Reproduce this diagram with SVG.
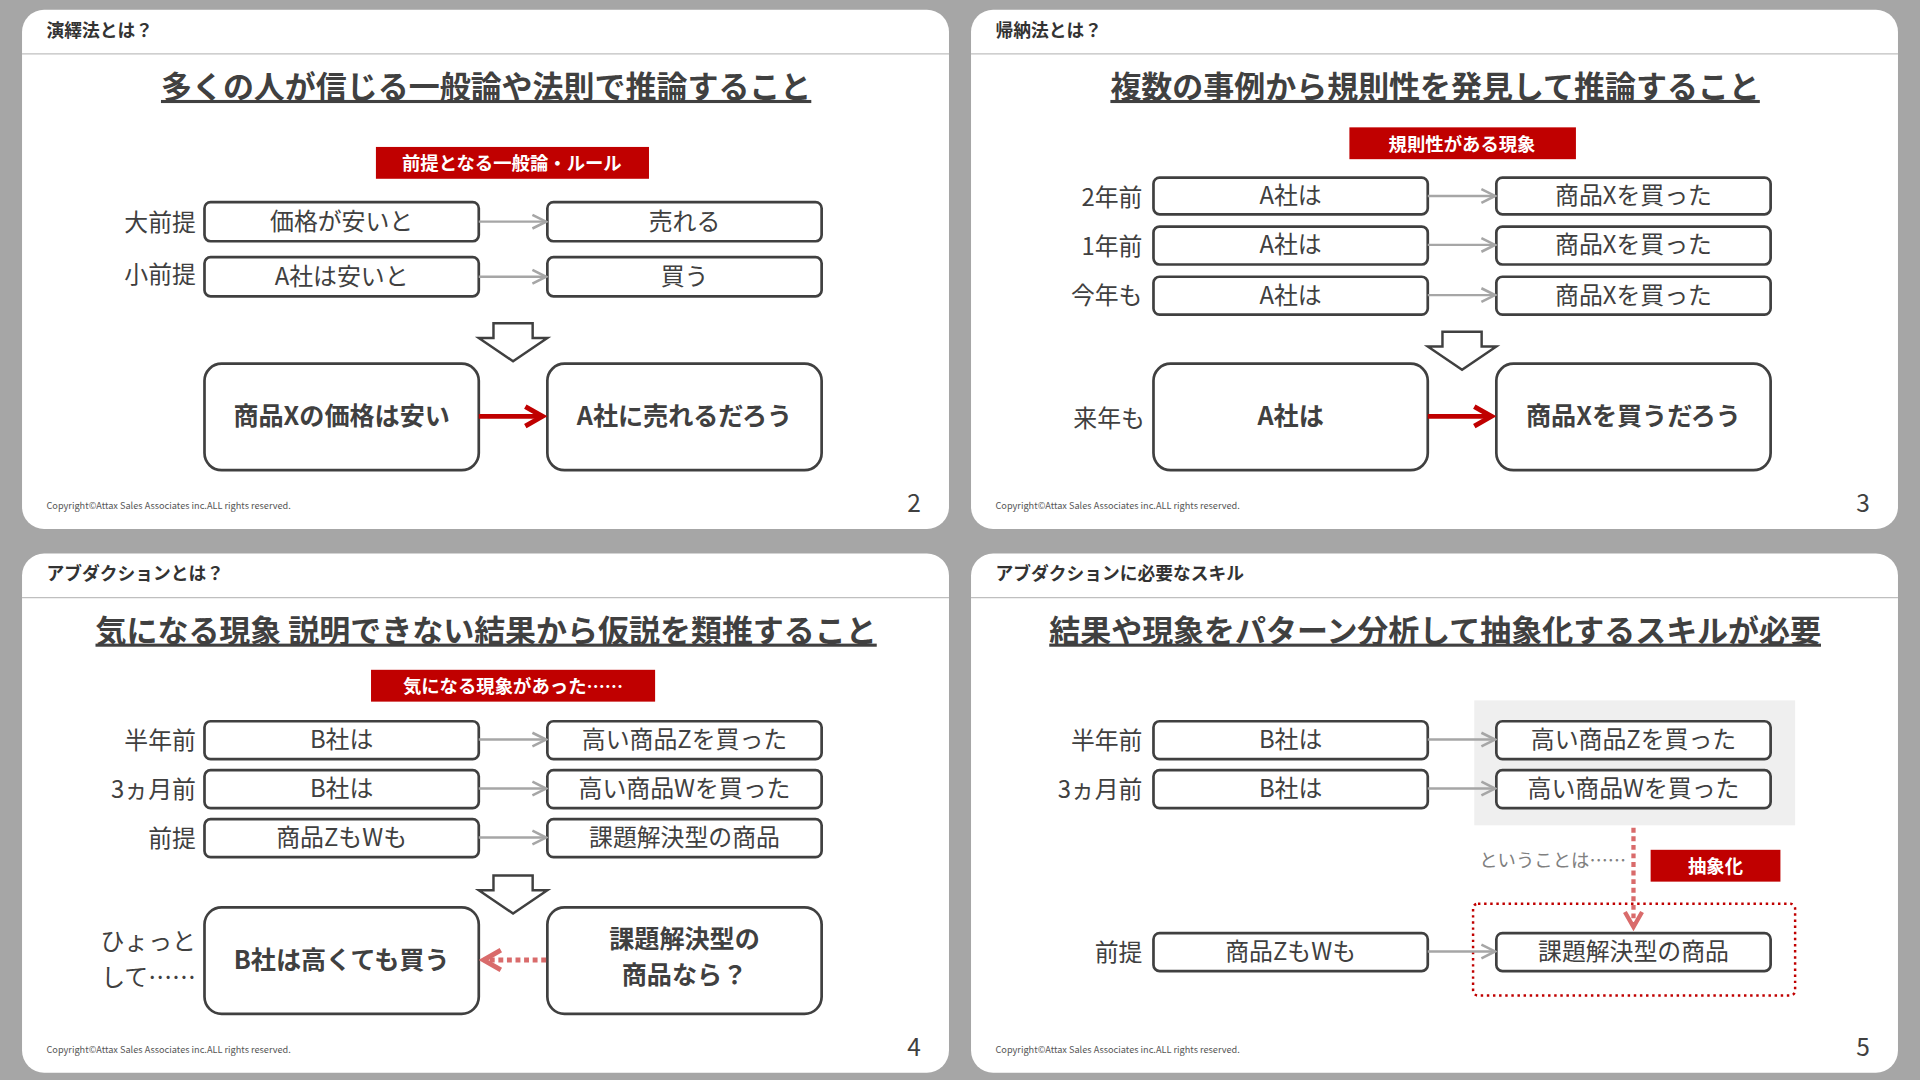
<svg xmlns="http://www.w3.org/2000/svg" width="1920" height="1080" viewBox="0 0 1920 1080">
<defs>
<style>
text{font-family:"Noto Sans CJK JP","Noto Sans",sans-serif;fill:#404040}
.panel{fill:#fff}
.hdr{font-size:14.5px;font-weight:700;fill:#333}
.ttl{font-size:25.3px;font-weight:700;text-anchor:middle;text-decoration:underline}
.box{fill:#fff;stroke:#404040;stroke-width:2.2}
.bt{font-size:19.5px;text-anchor:middle}
.bb{font-size:20.5px;font-weight:700;text-anchor:middle}
.lb{font-size:19.5px;text-anchor:end}
.red{fill:#c00000}
.rt{font-size:15px;font-weight:700;fill:#fff;text-anchor:middle}
.ga{stroke:#a6a6a6;stroke-width:2;fill:none;marker-end:url(#ga)}
.cp{font-size:7.5px;fill:#555}
.pn{font-size:20px;fill:#404040}
.down{fill:#fff;stroke:#404040;stroke-width:2}
</style>
<marker id="ga" viewBox="0 0 10 10" refX="9" refY="5" markerWidth="7" markerHeight="7" orient="auto"><path d="M1,1 L9,5 L1,9" fill="none" stroke="#a6a6a6" stroke-width="1.5"/></marker>
<marker id="ra" viewBox="0 0 10 10" refX="8" refY="5" markerWidth="5" markerHeight="5" orient="auto"><path d="M1,1 L8,5 L1,9" fill="none" stroke="#c00000" stroke-width="2"/></marker>
<marker id="pa" viewBox="0 0 10 10" refX="8" refY="5" markerWidth="5" markerHeight="5" orient="auto"><path d="M1,1 L8,5 L1,9" fill="none" stroke="#d96b6b" stroke-width="2"/></marker>
<path id="dn" d="M-16,0 H16 V12 H28 L0,31 L-28,12 H-16 Z"/>
</defs>
<rect width="1920" height="1080" fill="#a6a6a6"/>
<g transform="scale(1.2245)">
<g id="panels">
<rect class="panel" x="18" y="8" width="757" height="424" rx="18"/>
<rect class="panel" x="793" y="8" width="757" height="424" rx="18"/>
<rect class="panel" x="18" y="452" width="757" height="424" rx="18"/>
<rect class="panel" x="793" y="452" width="757" height="424" rx="18"/>
<g stroke="#bfbfbf" stroke-width="1"><line x1="18" y1="44" x2="775" y2="44"/><line x1="793" y1="44" x2="1550" y2="44"/><line x1="18" y1="488" x2="775" y2="488"/><line x1="793" y1="488" x2="1550" y2="488"/></g>
</g>

<g id="p1">
<text class="hdr" x="38" y="30">演繹法とは？</text>
<text class="ttl" x="397" y="80">多くの人が信じる一般論や法則で推論すること</text>
<rect class="red" x="307" y="120" width="223" height="26"/><text class="rt" x="418" y="139">前提となる一般論・ルール</text>
<text class="lb" x="160" y="189">大前提</text><text class="lb" x="160" y="231">小前提</text>
<g id="n1a"><rect class="box" x="167" y="165" width="224" height="32" rx="5"/><text class="bt" x="279" y="188">価格が安いと</text></g>
<g id="n1b"><rect class="box" x="447" y="165" width="224" height="32" rx="5"/><text class="bt" x="559" y="188">売れる</text></g>
<g id="n1c"><rect class="box" x="167" y="210" width="224" height="32" rx="5"/><text class="bt" x="279" y="233">A社は安いと</text></g>
<g id="n1d"><rect class="box" x="447" y="210" width="224" height="32" rx="5"/><text class="bt" x="559" y="233">買う</text></g>
<use href="#dn" class="down" x="419" y="264"/>
<g id="n1e"><rect class="box" x="167" y="297" width="224" height="87" rx="14"/><text class="bb" x="279" y="347">商品Xの価格は安い</text></g>
<g id="n1f"><rect class="box" x="447" y="297" width="224" height="87" rx="14"/><text class="bb" x="559" y="347">A社に売れるだろう</text></g>
<text class="cp" x="38" y="416">Copyright©Attax Sales Associates inc.ALL rights reserved.</text>
<text class="pn" x="741" y="418">2</text>
</g>

<g id="p2">
<text class="hdr" x="813" y="30">帰納法とは？</text>
<text class="ttl" x="1172" y="80">複数の事例から規則性を発見して推論すること</text>
<rect class="red" x="1102" y="104" width="185" height="26"/><text class="rt" x="1194" y="123">規則性がある現象</text>
<text class="lb" x="933" y="168">2年前</text><text class="lb" x="933" y="208">1年前</text><text class="lb" x="933" y="248">今年も</text><text class="lb" x="935" y="349">来年も</text>
<g id="n2a"><rect class="box" x="942" y="145" width="224" height="30" rx="5"/><text class="bt" x="1054" y="167">A社は</text></g>
<g id="n2b"><rect class="box" x="1222" y="145" width="224" height="30" rx="5"/><text class="bt" x="1334" y="167">商品Xを買った</text></g>
<g id="n2c"><rect class="box" x="942" y="185" width="224" height="31" rx="5"/><text class="bt" x="1054" y="207">A社は</text></g>
<g id="n2d"><rect class="box" x="1222" y="185" width="224" height="31" rx="5"/><text class="bt" x="1334" y="207">商品Xを買った</text></g>
<g id="n2e"><rect class="box" x="942" y="226" width="224" height="31" rx="5"/><text class="bt" x="1054" y="248">A社は</text></g>
<g id="n2f"><rect class="box" x="1222" y="226" width="224" height="31" rx="5"/><text class="bt" x="1334" y="248">商品Xを買った</text></g>
<use href="#dn" class="down" x="1194" y="271"/>
<g id="n2g"><rect class="box" x="942" y="297" width="224" height="87" rx="14"/><text class="bb" x="1054" y="347">A社は</text></g>
<g id="n2h"><rect class="box" x="1222" y="297" width="224" height="87" rx="14"/><text class="bb" x="1334" y="347">商品Xを買うだろう</text></g>
<text class="cp" x="813" y="416">Copyright©Attax Sales Associates inc.ALL rights reserved.</text>
<text class="pn" x="1516" y="418">3</text>
</g>

<g id="p3">
<text class="hdr" x="38" y="474">アブダクションとは？</text>
<text class="ttl" x="397" y="524">気になる現象 説明できない結果から仮説を類推すること</text>
<rect class="red" x="303" y="547" width="232" height="26"/><text class="rt" x="419" y="566">気になる現象があった……</text>
<text class="lb" x="160" y="612">半年前</text><text class="lb" x="160" y="652">3ヵ月前</text><text class="lb" x="160" y="692">前提</text>
<text class="lb" x="160" y="776">ひょっと</text><text class="lb" x="160" y="805">して……</text>
<g id="n3a"><rect class="box" x="167" y="589" width="224" height="31" rx="5"/><text class="bt" x="279" y="611">B社は</text></g>
<g id="n3b"><rect class="box" x="447" y="589" width="224" height="31" rx="5"/><text class="bt" x="559" y="611">高い商品Zを買った</text></g>
<g id="n3c"><rect class="box" x="167" y="629" width="224" height="31" rx="5"/><text class="bt" x="279" y="651">B社は</text></g>
<g id="n3d"><rect class="box" x="447" y="629" width="224" height="31" rx="5"/><text class="bt" x="559" y="651">高い商品Wを買った</text></g>
<g id="n3e"><rect class="box" x="167" y="669" width="224" height="31" rx="5"/><text class="bt" x="279" y="691">商品ZもWも</text></g>
<g id="n3f"><rect class="box" x="447" y="669" width="224" height="31" rx="5"/><text class="bt" x="559" y="691">課題解決型の商品</text></g>
<use href="#dn" class="down" x="419" y="715"/>
<g id="n3g"><rect class="box" x="167" y="741" width="224" height="87" rx="14"/><text class="bb" x="279" y="791">B社は高くても買う</text></g>
<g id="n3h"><rect class="box" x="447" y="741" width="224" height="87" rx="14"/><text class="bb" x="559" y="774">課題解決型の</text><text class="bb" x="559" y="804">商品なら？</text></g>
<text class="cp" x="38" y="860">Copyright©Attax Sales Associates inc.ALL rights reserved.</text>
<text class="pn" x="741" y="862">4</text>
</g>

<g id="p4">
<text class="hdr" x="813" y="474">アブダクションに必要なスキル</text>
<text class="ttl" x="1172" y="524">結果や現象をパターン分析して抽象化するスキルが必要</text>
<rect x="1204" y="572" width="262" height="102" fill="#efefef"/>
<text class="lb" x="933" y="612">半年前</text><text class="lb" x="933" y="652">3ヵ月前</text><text class="lb" x="933" y="785">前提</text>
<g id="n4a"><rect class="box" x="942" y="589" width="224" height="31" rx="5"/><text class="bt" x="1054" y="611">B社は</text></g>
<g id="n4b"><rect class="box" x="1222" y="589" width="224" height="31" rx="5"/><text class="bt" x="1334" y="611">高い商品Zを買った</text></g>
<g id="n4c"><rect class="box" x="942" y="629" width="224" height="31" rx="5"/><text class="bt" x="1054" y="651">B社は</text></g>
<g id="n4d"><rect class="box" x="1222" y="629" width="224" height="31" rx="5"/><text class="bt" x="1334" y="651">高い商品Wを買った</text></g>
<g id="n4e"><rect class="box" x="942" y="762" width="224" height="31" rx="5"/><text class="bt" x="1054" y="784">商品ZもWも</text></g>
<g id="n4f"><rect class="box" x="1222" y="762" width="224" height="31" rx="5"/><text class="bt" x="1334" y="784">課題解決型の商品</text></g>
<text x="1328" y="708" font-size="15" style="fill:#808080" text-anchor="end">ということは……</text>
<rect class="red" x="1348" y="694" width="106" height="26"/><text class="rt" x="1401" y="713">抽象化</text>
<rect x="1203" y="738" width="263" height="75" rx="4" fill="none" stroke="#c00000" stroke-width="2" stroke-dasharray="2,3"/>
<text class="cp" x="813" y="860">Copyright©Attax Sales Associates inc.ALL rights reserved.</text>
<text class="pn" x="1516" y="862">5</text>
</g>
</g>

<g id="connectors" transform="scale(1.2245)">
<line class="ga" x1="391" y1="181" x2="446" y2="181"/>
<line class="ga" x1="391" y1="226" x2="446" y2="226"/>
<line x1="391" y1="340" x2="443" y2="340" stroke="#c00000" stroke-width="4" marker-end="url(#ra)"/>
<line class="ga" x1="1166" y1="160" x2="1221" y2="160"/>
<line class="ga" x1="1166" y1="200" x2="1221" y2="200"/>
<line class="ga" x1="1166" y1="241" x2="1221" y2="241"/>
<line x1="1166" y1="340" x2="1218" y2="340" stroke="#c00000" stroke-width="4" marker-end="url(#ra)"/>
<line class="ga" x1="391" y1="604" x2="446" y2="604"/>
<line class="ga" x1="391" y1="644" x2="446" y2="644"/>
<line class="ga" x1="391" y1="684" x2="446" y2="684"/>
<line x1="446" y1="784" x2="395" y2="784" stroke="#d96b6b" stroke-width="4" stroke-dasharray="4,3" marker-end="url(#pa)"/>
<line class="ga" x1="1166" y1="604" x2="1221" y2="604"/>
<line class="ga" x1="1166" y1="644" x2="1221" y2="644"/>
<line class="ga" x1="1166" y1="777" x2="1221" y2="777"/>
<line x1="1334" y1="676" x2="1334" y2="757" stroke="#d96b6b" stroke-width="3.5" stroke-dasharray="4,3" marker-end="url(#pa)"/>
</g>
</svg>
